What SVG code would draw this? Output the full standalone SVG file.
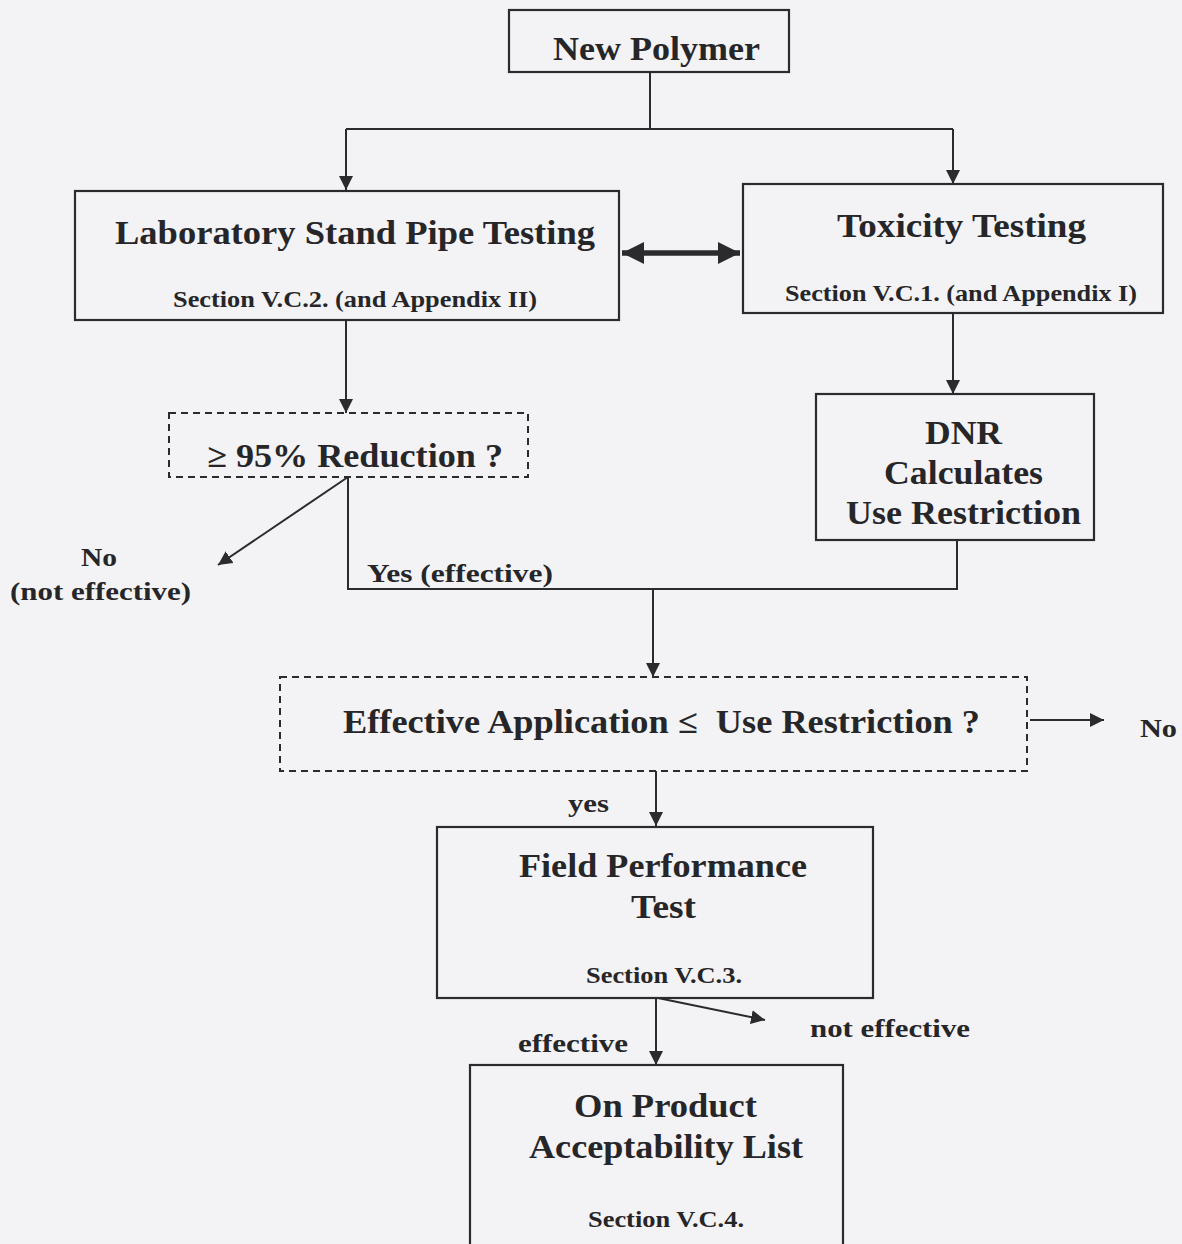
<svg xmlns="http://www.w3.org/2000/svg" width="1182" height="1244" viewBox="0 0 1182 1244">
<style>
.box{fill:none;stroke:#2b2b2e;stroke-width:2.2}
.dash{fill:none;stroke:#2b2b2e;stroke-width:2;stroke-dasharray:7 5}
.ln{fill:none;stroke:#2b2b2e;stroke-width:2}
.t{font-family:"Liberation Serif","Times New Roman",serif;font-weight:bold;fill:#262628}
.big{font-size:33px}
.sm{font-size:23px}
.md{font-size:26px}
</style>
<defs>
<marker id="ah" viewBox="0 0 10 10" refX="10" refY="5" markerWidth="14" markerHeight="14" markerUnits="userSpaceOnUse" orient="auto">
<path d="M0,0 L10,5 L0,10 z" fill="#2b2b2e"/>
</marker>
<marker id="ahb" viewBox="0 0 10 10" refX="10" refY="5" markerWidth="4" markerHeight="4.4" orient="auto-start-reverse">
<path d="M0,0 L10,5 L0,10 z" fill="#2b2b2e"/>
</marker>
</defs>
<rect width="1182" height="1244" fill="#f3f3f6"/>
<g id="connectors">
<path class="ln" d="M650,72 V129 M346,129 H953"/>
<path class="ln" d="M346,129 V190" marker-end="url(#ah)"/>
<path class="ln" d="M953,129 V184" marker-end="url(#ah)"/>
<path d="M622,253 H740" stroke="#2b2b2e" stroke-width="5.5" fill="none" marker-start="url(#ahb)" marker-end="url(#ahb)"/>
<path class="ln" d="M953,313 V394" marker-end="url(#ah)"/>
<path class="ln" d="M346,320 V413" marker-end="url(#ah)"/>
<path class="ln" d="M348,477 L218,565" marker-end="url(#ah)"/>
<path class="ln" d="M348,477 V589 H957 V540"/>
<path class="ln" d="M653,589 V677" marker-end="url(#ah)"/>
<path class="ln" d="M1030,720 H1104" marker-end="url(#ah)"/>
<path class="ln" d="M656,771 V826" marker-end="url(#ah)"/>
<path class="ln" d="M656,998 V1065" marker-end="url(#ah)"/>
<path class="ln" d="M658,998 L765,1020" marker-end="url(#ah)"/>
</g>
<g id="new-polymer">
<rect class="box" x="509" y="10" width="280" height="62"/>
<text class="t big" x="553" y="60" textLength="207" lengthAdjust="spacingAndGlyphs">New Polymer</text>
</g>
<g id="lab-testing">
<rect class="box" x="75" y="191" width="544" height="129"/>
<text class="t big" x="115" y="244" textLength="480" lengthAdjust="spacingAndGlyphs">Laboratory Stand Pipe Testing</text>
<text class="t sm" x="173" y="307" textLength="364" lengthAdjust="spacingAndGlyphs">Section V.C.2. (and Appendix II)</text>
</g>
<g id="toxicity-testing">
<rect class="box" x="743" y="184" width="420" height="129"/>
<text class="t big" x="837" y="237" textLength="249" lengthAdjust="spacingAndGlyphs">Toxicity Testing</text>
<text class="t sm" x="785" y="301" textLength="352" lengthAdjust="spacingAndGlyphs">Section V.C.1. (and Appendix I)</text>
</g>
<g id="dnr">
<rect class="box" x="816" y="394" width="278" height="146"/>
<text class="t big" x="925" y="444" textLength="77" lengthAdjust="spacingAndGlyphs">DNR</text>
<text class="t big" x="884" y="484" textLength="159" lengthAdjust="spacingAndGlyphs">Calculates</text>
<text class="t big" x="846" y="524" textLength="235" lengthAdjust="spacingAndGlyphs">Use Restriction</text>
</g>
<g id="reduction-decision">
<rect class="dash" x="169" y="413" width="359" height="64"/>
<text class="t big" x="207" y="467" textLength="296" lengthAdjust="spacingAndGlyphs">≥ 95% Reduction ?</text>
</g>
<g id="no-not-effective">
<text class="t md" x="81" y="566" textLength="36" lengthAdjust="spacingAndGlyphs">No</text>
<text class="t md" x="10" y="600" textLength="181" lengthAdjust="spacingAndGlyphs">(not effective)</text>
</g>
<text class="t md" x="367" y="582" textLength="186" lengthAdjust="spacingAndGlyphs">Yes (effective)</text>
<g id="application-decision">
<rect class="dash" x="280" y="677" width="747" height="94"/>
<text class="t big" x="343" y="733" textLength="637" lengthAdjust="spacingAndGlyphs" xml:space="preserve">Effective Application ≤  Use Restriction ?</text>
</g>
<g id="no-right">
<text class="t md" x="1140" y="737" textLength="37" lengthAdjust="spacingAndGlyphs">No</text>
</g>
<text class="t md" x="568" y="812" textLength="41" lengthAdjust="spacingAndGlyphs">yes</text>
<g id="field-test">
<rect class="box" x="437" y="827" width="436" height="171"/>
<text class="t big" x="519" y="877" textLength="288" lengthAdjust="spacingAndGlyphs">Field Performance</text>
<text class="t big" x="631" y="918" textLength="65" lengthAdjust="spacingAndGlyphs">Test</text>
<text class="t sm" x="586" y="983" textLength="156" lengthAdjust="spacingAndGlyphs">Section V.C.3.</text>
</g>
<text class="t md" x="518" y="1052" textLength="110" lengthAdjust="spacingAndGlyphs">effective</text>
<g id="not-effective">
<text class="t md" x="810" y="1037" textLength="160" lengthAdjust="spacingAndGlyphs">not effective</text>
</g>
<g id="acceptability-list">
<rect class="box" x="470" y="1065" width="373" height="190"/>
<text class="t big" x="574" y="1117" textLength="183" lengthAdjust="spacingAndGlyphs">On Product</text>
<text class="t big" x="529" y="1158" textLength="274" lengthAdjust="spacingAndGlyphs">Acceptability List</text>
<text class="t sm" x="588" y="1227" textLength="156" lengthAdjust="spacingAndGlyphs">Section V.C.4.</text>
</g>
</svg>
